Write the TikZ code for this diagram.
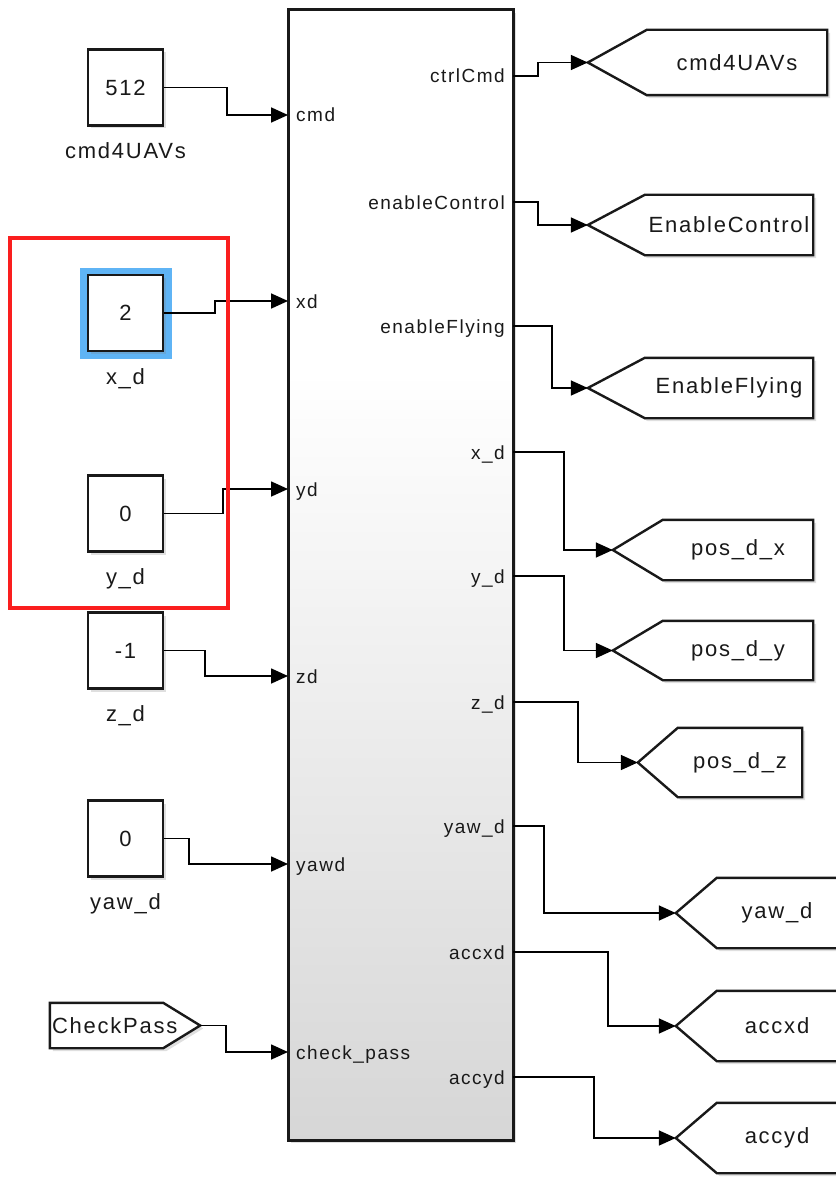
\documentclass[tikz,border=0pt]{standalone}
\usepackage{fontspec}
\setmainfont{Liberation Sans}
\newfontfamily\simfont{Liberation Sans}[LetterSpace=8]
\usepackage{xcolor}
\usetikzlibrary{arrows.meta, positioning, shadows, backgrounds}

\definecolor{selblue}{RGB}{95,180,245}
\definecolor{selred}{RGB}{250,30,30}
\pgfdeclareverticalshading{blockfade}{100bp}{color(0bp)=(black!16); color(25bp)=(black!16); color(59bp)=(white); color(100bp)=(white)}

\tikzset{
  blk/.style={draw=black!90, line width=2.4pt, fill=white, drop shadow={shadow xshift=3pt, shadow yshift=-3pt, opacity=0.25}},
  const/.style={blk, minimum width=75pt, minimum height=76pt, inner sep=0pt, font={\simfont\fontsize{22}{24}\selectfont}, text=black!90},
  blkname/.style={anchor=base, inner sep=0pt, font={\simfont\fontsize{22}{24}\selectfont}, text=black!90},
  port/.style={inner sep=0pt, font={\simfont\fontsize{19}{21}\selectfont}, text=black!90},
  tag/.style={inner sep=2pt, align=center, font={\simfont\fontsize{22}{24}\selectfont}, text=black!90},
  sig/.style={draw=black, line width=1.7pt, -{Triangle[length=17pt, width=15pt]}}
}

\begin{document}
\begin{tikzpicture}[x=1pt, y=-1pt]
    \useasboundingbox (0,0) rectangle (835,1177);
    \clip (0,0) rectangle (835,1177);

    % Main block
    \node[blk, shade, shading=blockfade, line width=3pt, minimum width=225pt, minimum height=1130pt, inner sep=0pt] (ctrl) at (400.5,575) {};
    \foreach \p/\y in {icmd/115, ixd/301, iyd/489, izd/676, iyaw/864, ichk/1052}
        \coordinate (\p) at (288,\y);
    \foreach \p/\y in {octrl/76, oen/202, ofly/326, ox/452, oy/576, oz/702, oyaw/826, oax/952, oay/1077}
        \coordinate (\p) at (513,\y);

    % Port labels
    \node[port, anchor=base west] (lcmd) at (296,122) {cmd};
    \node[port, anchor=base west] (lxd) at (296,308) {xd};
    \node[port, anchor=base west] (lyd) at (296,496) {yd};
    \node[port, anchor=base west] (lzd) at (296,683) {zd};
    \node[port, anchor=base west] (lyaw) at (296,871) {yawd};
    \node[port, anchor=base west] (lchk) at (296,1059) {check\_pass};
    \node[port, anchor=base east] (lctrl) at (505,83) {ctrlCmd};
    \node[port, anchor=base east] (len) at (505,209) {enableControl};
    \node[port, anchor=base east] (lfly) at (505,333) {enableFlying};
    \node[port, anchor=base east] (lox) at (505,459) {x\_d};
    \node[port, anchor=base east] (loy) at (505,583) {y\_d};
    \node[port, anchor=base east] (loz) at (505,709) {z\_d};
    \node[port, anchor=base east] (loyaw) at (505,833) {yaw\_d};
    \node[port, anchor=base east] (loax) at (505,959) {accxd};
    \node[port, anchor=base east] (loay) at (505,1084) {accyd};

    % Constants
    \node[fill=selblue, minimum width=92pt, minimum height=91pt, inner sep=0pt] (hl) at (125.5,313) {};
    \node[const] (k512) at (125.5,87.5) {512};
    \node[const] (kx) at (125.5,313) {2};
    \node[const] (ky) at (125.5,513.5) {0};
    \node[const] (kz) at (125.5,650.5) {-1};
    \node[const] (kyaw) at (125.5,838.5) {0};
    \node[blkname] (nk512) at ([yshift=-32pt]k512.south) {cmd4UAVs};
    \node[blkname] (nkx) at ([yshift=-32pt]kx.south) {x\_d};
    \node[blkname] (nky) at ([yshift=-32pt]ky.south) {y\_d};
    \node[blkname] (nkz) at ([yshift=-32pt]kz.south) {z\_d};
    \node[blkname] (nkyaw) at ([yshift=-32pt]kyaw.south) {yaw\_d};

    % From and Goto tags
    \node[tag, minimum width=113pt, minimum height=45pt, text width=109pt, align=left] (fchk) at (106.5,1025.5) {CheckPass};
    \node[tag, minimum width=180pt, minimum height=65pt] (gcmd) at (737,62.5) {cmd4UAVs};
    \node[tag, minimum width=168pt, minimum height=60pt] (gen) at (729,225) {EnableControl};
    \node[tag, minimum width=168pt, minimum height=60pt] (gfly) at (729,388) {EnableFlying};
    \node[tag, minimum width=150pt, minimum height=60pt] (gpx) at (738,550) {pos\_d\_x};
    \node[tag, minimum width=150pt, minimum height=59pt] (gpy) at (738,650.5) {pos\_d\_y};
    \node[tag, minimum width=124pt, minimum height=69pt] (gpz) at (740,762.5) {pos\_d\_z};
    \node[tag, minimum width=120pt, minimum height=70pt] (gyaw) at (777,913) {yaw\_d};
    \node[tag, minimum width=120pt, minimum height=70pt] (gaccx) at (777,1026) {accxd};
    \node[tag, minimum width=120pt, minimum height=70pt] (gaccy) at (777,1138) {accyd};

    \begin{scope}[on background layer]
        \foreach \g/\dx in {gcmd/59, gen/57, gfly/57, gpx/50, gpy/50, gpz/40, gyaw/41, gaccx/41, gaccy/41}
            \draw[blk] (\g.north east) -- (\g.north west) -- ([xshift=-\dx pt]\g.west) coordinate (\g-tip) -- (\g.south west) -- (\g.south east) -- cycle;
        \draw[blk] (fchk.north east) -- (fchk.north west) -- (fchk.south west) -- (fchk.south east) -- ([xshift=37pt]fchk.east) coordinate (fchk-tip) -- cycle;
    \end{scope}

    % Signal lines
    \draw[sig] (k512.east) -- ++(63,0) |- (icmd);
    \draw[sig] (kx.east) -- ++(51,0) |- (ixd);
    \draw[sig] (ky.east) -- ++(59,0) |- (iyd);
    \draw[sig] (kz.east) -- ++(41,0) |- (izd);
    \draw[sig] (kyaw.east) -- ++(25,0) |- (iyaw);
    \draw[sig] (fchk-tip) -- ++(26,0) |- (ichk);
    \draw[sig] (octrl) -- ++(25,0) |- (gcmd-tip);
    \draw[sig] (oen) -- ++(25,0) |- (gen-tip);
    \draw[sig] (ofly) -- ++(39,0) |- (gfly-tip);
    \draw[sig] (ox) -- ++(51,0) |- (gpx-tip);
    \draw[sig] (oy) -- ++(51,0) |- (gpy-tip);
    \draw[sig] (oz) -- ++(65,0) |- (gpz-tip);
    \draw[sig] (oyaw) -- ++(31,0) |- (gyaw-tip);
    \draw[sig] (oax) -- ++(95,0) |- (gaccx-tip);
    \draw[sig] (oay) -- ++(81,0) |- (gaccy-tip);

    % Selection frame
    \node[draw=selred, line width=3.2pt, minimum width=218pt, minimum height=370pt, inner sep=0pt] (sel) at (119,423) {};
\end{tikzpicture}
\end{document}
